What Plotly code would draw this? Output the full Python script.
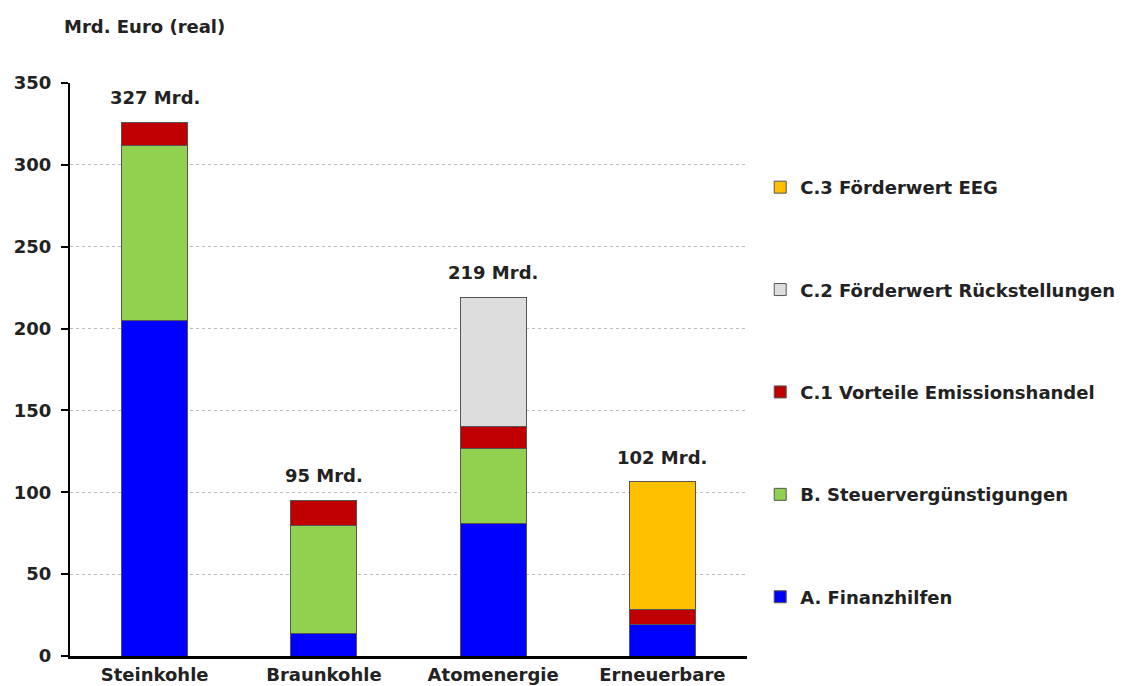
import plotly.graph_objects as go

categories = ["Steinkohle", "Braunkohle", "Atomenergie", "Erneuerbare"]
finanzhilfen = [205, 13.5, 81, 19.5]
steuer = [107, 66.5, 46, 0]
emission = [14, 15, 13, 9]
rueckstellungen = [0, 0, 79, 0]
eeg = [0, 0, 0, 78]
total_labels = ["327 Mrd.", "95 Mrd.", "219 Mrd.", "102 Mrd."]

series = [
    ("A. Finanzhilfen", finanzhilfen, "#0000FF"),
    ("B. Steuervergünstigungen", steuer, "#92D050"),
    ("C.1 Vorteile Emissionshandel", emission, "#C00000"),
    ("C.2 Förderwert Rückstellungen", rueckstellungen, "#DDDDDD"),
    ("C.3 Förderwert EEG", eeg, "#FFC000"),
]

FONT = "DejaVu Sans"
FS = 18
fig = go.Figure()
for i, (name, vals, col) in enumerate(series):
    fig.add_trace(go.Bar(
        x=categories, y=vals, name=name, legendgroup=str(i), legendrank=10 - i,
        marker=dict(color=col, line=dict(color="#555555", width=1)),
        width=0.39,
    ))

totals = [sum(v) for v in zip(*[s[1] for s in series])]
for c, t, lab in zip(categories, totals, total_labels):
    fig.add_annotation(x=c, y=t, text=lab, showarrow=False, yanchor="bottom",
                       yshift=12, font=dict(family=FONT, size=FS, color="#222222", weight="bold"))

fig.add_annotation(xref="paper", yref="paper", x=-0.012, y=1.077, text="Mrd. Euro (real)",
                   showarrow=False, xanchor="left", yanchor="bottom",
                   font=dict(family=FONT, size=FS, color="#222222", weight="bold"))

fig.update_layout(
    width=1131, height=686,
    margin=dict(l=70, r=383, t=83, b=30),
    barmode="stack",
    plot_bgcolor="white", paper_bgcolor="white",
    font=dict(family=FONT, size=FS, color="#222222", weight="bold"),
    showlegend=True,
    legend=dict(x=1.018, y=0.85, xanchor="left", yanchor="top",
                traceorder="grouped", tracegroupgap=76,
                font=dict(family=FONT, size=FS, color="#222222", weight="bold"),
                itemwidth=30),
    xaxis=dict(range=[-0.5, 3.5], showline=True, linecolor="black", linewidth=3,
               ticks="", automargin=False,
               tickfont=dict(family=FONT, size=FS, weight="bold")),
    yaxis=dict(range=[0, 350], tickvals=[0, 50, 100, 150, 200, 250, 300, 350],
               showline=True, linecolor="black", linewidth=2,
               ticks="outside", ticklen=7, tickwidth=2, tickcolor="black",
               ticklabelstandoff=6, automargin=False,
               showgrid=True, gridcolor="#BBBBBB", griddash="dot", gridwidth=1,
               zeroline=False,
               tickfont=dict(family=FONT, size=FS, weight="bold")),
)
fig.write_html("out.html")
